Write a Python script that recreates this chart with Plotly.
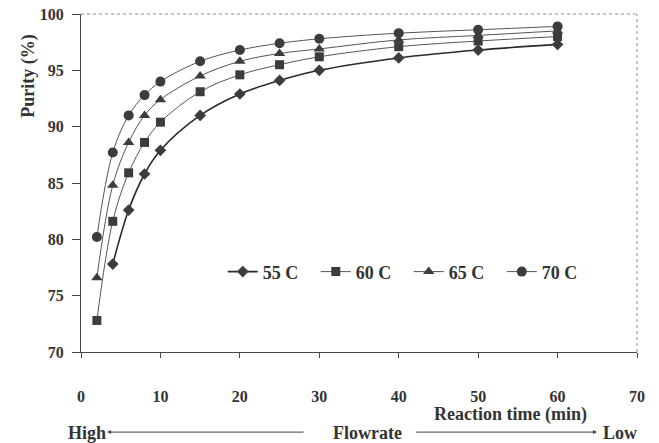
import plotly.graph_objects as go

time_min = [2, 4, 6, 8, 10, 15, 20, 25, 30, 40, 50, 60]
purity_55 = [None, 77.8, 82.6, 85.8, 87.9, 91.0, 92.9, 94.1, 95.0, 96.1, 96.8, 97.3]
purity_60 = [72.8, 81.6, 85.9, 88.6, 90.4, 93.1, 94.6, 95.5, 96.2, 97.1, 97.6, 98.0]
purity_65 = [76.6, 84.8, 88.6, 91.0, 92.4, 94.5, 95.8, 96.5, 96.9, 97.7, 98.1, 98.5]
purity_70 = [80.2, 87.7, 91.0, 92.8, 94.0, 95.8, 96.8, 97.4, 97.8, 98.3, 98.6, 98.9]
series_names = ["55 C", "60 C", "65 C", "70 C"]
x_ticks = [0, 10, 20, 30, 40, 50, 60, 70]
y_ticks = [70, 75, 80, 85, 90, 95, 100]

FONT = "Liberation Serif"
INK = "#333333"

series = [
    (series_names[0], purity_55, "diamond", 9, "#2a2a2a", 1.6),
    (series_names[1], purity_60, "square", 9, "#3a3a3a", 1.0),
    (series_names[2], purity_65, "triangle-up", 10, "#3a3a3a", 1.0),
    (series_names[3], purity_70, "circle", 10, "#3a3a3a", 1.0),
]

fig = go.Figure()
for name, ys, sym, sz, col, lw in series:
    xs = [x for x, y in zip(time_min, ys) if y is not None]
    yy = [y for y in ys if y is not None]
    fig.add_trace(go.Scatter(
        x=xs, y=yy, name=name, mode="lines+markers",
        line=dict(color="#555555" if lw < 1.5 else col, width=lw, shape="spline", smoothing=1.0),
        marker=dict(symbol=sym, size=sz, color="#3c3c3c"),
    ))

tick_font = dict(family=FONT, size=16, color=INK, weight="bold")
bold = dict(family=FONT, size=18, color=INK, weight="bold")

fig.update_layout(
    width=659, height=443,
    margin=dict(l=81, r=22, t=14, b=91, autoexpand=False),
    paper_bgcolor="white", plot_bgcolor="white",
    font=dict(family=FONT, size=14, color=INK),
    showlegend=True,
    legend=dict(
        orientation="h", x=0.255, y=0.237, xanchor="left", yanchor="middle",
        font=dict(family=FONT, size=18, color=INK, weight="bold"),
        bgcolor="rgba(0,0,0,0)", itemwidth=30, entrywidth=48, entrywidthmode="pixels",
    ),
    xaxis=dict(
        range=[0, 70], tickvals=x_ticks, showgrid=False, zeroline=False, automargin=False,
        showline=True, linecolor="#444444", linewidth=1,
        ticks="outside", ticklen=5, tickcolor="#444444",
        ticklabelstandoff=25,
        tickfont=tick_font,
    ),
    yaxis=dict(
        range=[70, 100], tickvals=y_ticks, showgrid=False, zeroline=False, automargin=False,
        showline=True, linecolor="#444444", linewidth=1,
        ticks="outside", ticklen=8, tickcolor="#444444",
        ticklabelstandoff=5,
        tickfont=tick_font,
    ),
)

# dotted top and right borders
fig.add_shape(type="line", xref="paper", yref="paper", x0=0, x1=1, y0=1, y1=1,
              line=dict(color="#888888", width=1, dash="dot"))
fig.add_shape(type="line", xref="paper", yref="paper", x0=1, x1=1, y0=0, y1=1,
              line=dict(color="#888888", width=1, dash="dot"))

fig.add_annotation(text="Purity (%)", xref="paper", yref="paper", textangle=-90,
                   x=-0.095, y=0.815, showarrow=False, font=bold, xanchor="center", yanchor="middle")
fig.add_annotation(text="Reaction time (min)", xref="paper", yref="paper",
                   x=0.773, y=-0.186, showarrow=False, font=bold, xanchor="center", yanchor="middle")
fig.add_annotation(text="High", xref="paper", yref="paper",
                   x=0.011, y=-0.24, showarrow=False, font=bold, xanchor="center", yanchor="middle")
fig.add_annotation(text="Flowrate", xref="paper", yref="paper",
                   x=0.516, y=-0.24, showarrow=False, font=bold, xanchor="center", yanchor="middle")
fig.add_annotation(text="Low", xref="paper", yref="paper",
                   x=0.969, y=-0.24, showarrow=False, font=bold, xanchor="center", yanchor="middle")
# arrows
fig.add_annotation(text="", xref="x domain", yref="y domain", axref="x domain", ayref="y domain",
                   x=0.047, y=-0.237, ax=0.403, ay=-0.237, showarrow=True,
                   arrowhead=2, arrowsize=0.8, arrowwidth=1, arrowcolor="#444444")
fig.add_annotation(text="", xref="x domain", yref="y domain", axref="x domain", ayref="y domain",
                   x=0.928, y=-0.237, ax=0.60, ay=-0.237, showarrow=True,
                   arrowhead=2, arrowsize=0.8, arrowwidth=1, arrowcolor="#444444")

fig.write_html("out.html", config={"displayModeBar": False},
               post_script="document.body.style.margin='0';document.body.style.overflow='hidden';")
